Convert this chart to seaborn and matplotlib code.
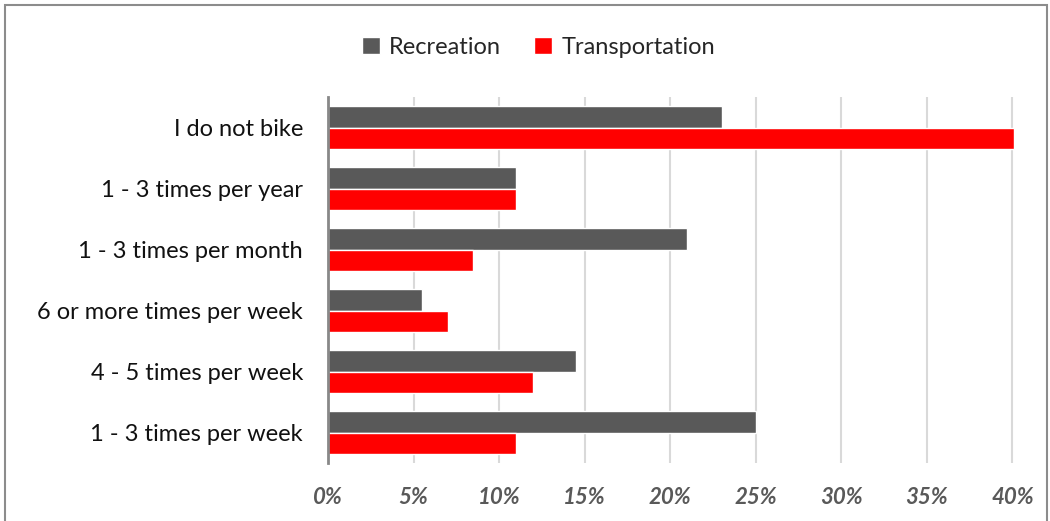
import pandas as pd
import numpy as np
import matplotlib
matplotlib.use("Agg")
import matplotlib.pyplot as plt
import seaborn as sns
from matplotlib.patches import Rectangle
from matplotlib.ticker import PercentFormatter

# data (top to bottom)
categories = ["I do not bike", "1 - 3 times per year", "1 - 3 times per month",
              "6 or more times per week", "4 - 5 times per week", "1 - 3 times per week"]
recreation = [0.23, 0.11, 0.21, 0.055, 0.145, 0.25]
transportation = [0.401, 0.11, 0.085, 0.07, 0.12, 0.11]
series = ["Recreation", "Transportation"]
colors = ["#595959", "#FF0000"]

df = pd.DataFrame({
    "category": categories * 2,
    "share": recreation + transportation,
    "series": [series[0]] * len(categories) + [series[1]] * len(categories),
})

sns.set_style("white")
plt.rcParams["font.family"] = ["Lato", "DejaVu Sans"]

fig = plt.figure(figsize=(10.5, 5.21), dpi=100)
ax = fig.add_axes([0.3124, 0.1113, 0.6543, 0.7025])

sns.barplot(data=df, x="share", y="category", hue="series", order=categories,
            hue_order=series, palette=colors, width=0.72, orient="h",
            saturation=1, ax=ax)

ax.set_xlim(0, 0.4015)
ax.set_xticks(np.arange(0, 0.41, 0.05))
ax.xaxis.set_major_formatter(PercentFormatter(1.0, decimals=0))
ax.grid(axis="x", color="#d9d9d9", linewidth=1.5)
ax.set_axisbelow(True)
ax.set_xlabel("")
ax.set_ylabel("")

for s in ["top", "right", "bottom"]:
    ax.spines[s].set_visible(False)
ax.spines["left"].set_color("#888888")
ax.spines["left"].set_linewidth(2)

ax.tick_params(axis="both", length=0)
ax.tick_params(axis="y", labelsize=17, pad=18, labelcolor="#111111")
ax.tick_params(axis="x", labelsize=16, pad=17, labelcolor="#595959")
for lab in ax.get_xticklabels():
    lab.set_fontweight("bold")
    lab.set_fontstyle("italic")

ax.legend(loc="upper center", bbox_to_anchor=(0.513, 0.97),
          bbox_transform=fig.transFigure, ncol=2, frameon=False,
          fontsize=17, handlelength=0.75, handleheight=0.75,
          handletextpad=0.4, columnspacing=1.4)

# outer chart border
fig.patches.append(Rectangle((5 / 1050, -0.05), 1042 / 1050, 1.05 - 5 / 521,
                             transform=fig.transFigure, fill=False,
                             edgecolor="#8c8c8c", linewidth=1.5))

fig.savefig("out.png", dpi=100)
